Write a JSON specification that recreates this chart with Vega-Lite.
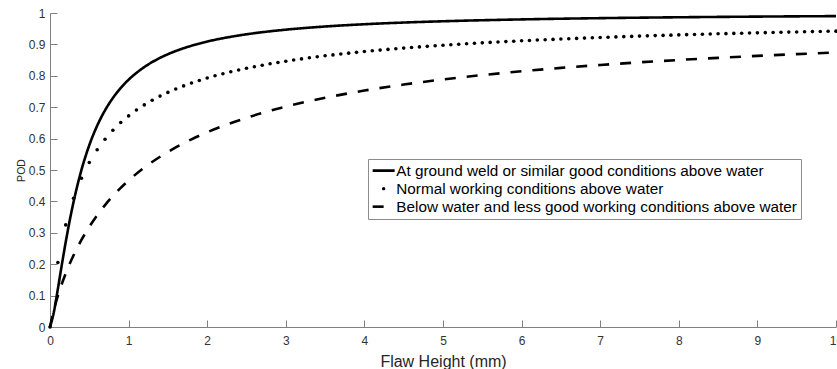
{
  "$schema": "https://vega.github.io/schema/vega-lite/v6.json",
  "width": 786,
  "height": 314,
  "autosize": {"type": "none"},
  "padding": {"left": 50, "top": 13, "right": 1, "bottom": 42},
  "background": "white",
  "config": {"view": {"stroke": null}, "font": "Liberation Sans"},
  "data": {"values": [
    {"s":"g","x":0,"p":0},{"s":"g","x":0.05,"p":0.0486},{"s":"g","x":0.1,"p":0.1211},{"s":"g","x":0.15,"p":0.1974},{"s":"g","x":0.2,"p":0.2707},{"s":"g","x":0.25,"p":0.338},{"s":"g","x":0.3,"p":0.3986},{"s":"g","x":0.4,"p":0.5},{"s":"g","x":0.5,"p":0.5791},{"s":"g","x":0.6,"p":0.641},{"s":"g","x":0.7,"p":0.69},{"s":"g","x":0.8,"p":0.7293},{"s":"g","x":0.9,"p":0.7613},{"s":"g","x":1,"p":0.7876},{"s":"g","x":1.2,"p":0.8279},{"s":"g","x":1.4,"p":0.8571},{"s":"g","x":1.6,"p":0.8789},{"s":"g","x":1.8,"p":0.8957},{"s":"g","x":2,"p":0.9091},{"s":"g","x":2.25,"p":0.922},{"s":"g","x":2.5,"p":0.9322},{"s":"g","x":2.75,"p":0.9403},{"s":"g","x":3,"p":0.9469},{"s":"g","x":3.5,"p":0.957},{"s":"g","x":4,"p":0.9642},{"s":"g","x":4.5,"p":0.9696},{"s":"g","x":5,"p":0.9737},{"s":"g","x":6,"p":0.9796},{"s":"g","x":7,"p":0.9836},{"s":"g","x":8,"p":0.9864},{"s":"g","x":9,"p":0.9885},{"s":"g","x":10,"p":0.9901},
    {"s":"b","x":0,"p":0},{"s":"b","x":0.05,"p":0.0557},{"s":"b","x":0.1,"p":0.0992},{"s":"b","x":0.2,"p":0.1705},{"s":"b","x":0.3,"p":0.2284},{"s":"b","x":0.4,"p":0.2772},{"s":"b","x":0.5,"p":0.3192},{"s":"b","x":0.6,"p":0.3559},{"s":"b","x":0.7,"p":0.3883},{"s":"b","x":0.8,"p":0.4172},{"s":"b","x":0.9,"p":0.4431},{"s":"b","x":1,"p":0.4667},{"s":"b","x":1.2,"p":0.5076},{"s":"b","x":1.4,"p":0.5422},{"s":"b","x":1.6,"p":0.5719},{"s":"b","x":1.8,"p":0.5976},{"s":"b","x":2,"p":0.6202},{"s":"b","x":2.5,"p":0.6662},{"s":"b","x":3,"p":0.7017},{"s":"b","x":3.5,"p":0.7299},{"s":"b","x":4,"p":0.7529},{"s":"b","x":4.5,"p":0.7721},{"s":"b","x":5,"p":0.7883},{"s":"b","x":5.5,"p":0.8023},{"s":"b","x":6,"p":0.8144},{"s":"b","x":6.5,"p":0.8251},{"s":"b","x":7,"p":0.8345},{"s":"b","x":7.5,"p":0.8429},{"s":"b","x":8,"p":0.8504},{"s":"b","x":8.5,"p":0.8572},{"s":"b","x":9,"p":0.8634},{"s":"b","x":9.5,"p":0.869},{"s":"b","x":10,"p":0.8742},
    {"s":"n","x":0,"p":0},{"s":"n","x":0.1,"p":0.2053},{"s":"n","x":0.2,"p":0.3252},{"s":"n","x":0.3,"p":0.4098},{"s":"n","x":0.4,"p":0.4735},{"s":"n","x":0.5,"p":0.5237},{"s":"n","x":0.6,"p":0.5644},{"s":"n","x":0.7,"p":0.5981},{"s":"n","x":0.8,"p":0.6266},{"s":"n","x":0.9,"p":0.6511},
    {"s":"n","x":1,"p":0.6723},{"s":"n","x":1.1,"p":0.6909},{"s":"n","x":1.2,"p":0.7074},{"s":"n","x":1.3,"p":0.7221},{"s":"n","x":1.4,"p":0.7353},{"s":"n","x":1.5,"p":0.7472},{"s":"n","x":1.6,"p":0.758},{"s":"n","x":1.7,"p":0.7679},{"s":"n","x":1.8,"p":0.7769},{"s":"n","x":1.9,"p":0.7852},
    {"s":"n","x":2,"p":0.7929},{"s":"n","x":2.1,"p":0.8},{"s":"n","x":2.2,"p":0.8066},{"s":"n","x":2.3,"p":0.8128},{"s":"n","x":2.4,"p":0.8186},{"s":"n","x":2.5,"p":0.8239},{"s":"n","x":2.6,"p":0.829},{"s":"n","x":2.7,"p":0.8337},{"s":"n","x":2.8,"p":0.8383},{"s":"n","x":2.9,"p":0.8425},
    {"s":"n","x":3,"p":0.8465},{"s":"n","x":3.1,"p":0.8503},{"s":"n","x":3.2,"p":0.8539},{"s":"n","x":3.3,"p":0.8573},{"s":"n","x":3.4,"p":0.8606},{"s":"n","x":3.5,"p":0.8637},{"s":"n","x":3.6,"p":0.8666},{"s":"n","x":3.7,"p":0.8695},{"s":"n","x":3.8,"p":0.8721},{"s":"n","x":3.9,"p":0.8747},
    {"s":"n","x":4,"p":0.8772},{"s":"n","x":4.1,"p":0.8796},{"s":"n","x":4.2,"p":0.8819},{"s":"n","x":4.3,"p":0.8841},{"s":"n","x":4.4,"p":0.8861},{"s":"n","x":4.5,"p":0.8882},{"s":"n","x":4.6,"p":0.8901},{"s":"n","x":4.7,"p":0.892},{"s":"n","x":4.8,"p":0.8938},{"s":"n","x":4.9,"p":0.8956},
    {"s":"n","x":5,"p":0.8973},{"s":"n","x":5.1,"p":0.8989},{"s":"n","x":5.2,"p":0.9005},{"s":"n","x":5.3,"p":0.902},{"s":"n","x":5.4,"p":0.9035},{"s":"n","x":5.5,"p":0.9049},{"s":"n","x":5.6,"p":0.9063},{"s":"n","x":5.7,"p":0.9076},{"s":"n","x":5.8,"p":0.9089},{"s":"n","x":5.9,"p":0.9102},
    {"s":"n","x":6,"p":0.9114},{"s":"n","x":6.1,"p":0.9126},{"s":"n","x":6.2,"p":0.9138},{"s":"n","x":6.3,"p":0.9149},{"s":"n","x":6.4,"p":0.916},{"s":"n","x":6.5,"p":0.9171},{"s":"n","x":6.6,"p":0.9181},{"s":"n","x":6.7,"p":0.9191},{"s":"n","x":6.8,"p":0.9201},{"s":"n","x":6.9,"p":0.9211},
    {"s":"n","x":7,"p":0.922},{"s":"n","x":7.1,"p":0.9229},{"s":"n","x":7.2,"p":0.9238},{"s":"n","x":7.3,"p":0.9247},{"s":"n","x":7.4,"p":0.9255},{"s":"n","x":7.5,"p":0.9264},{"s":"n","x":7.6,"p":0.9272},{"s":"n","x":7.7,"p":0.928},{"s":"n","x":7.8,"p":0.9287},{"s":"n","x":7.9,"p":0.9295},
    {"s":"n","x":8,"p":0.9302},{"s":"n","x":8.1,"p":0.931},{"s":"n","x":8.2,"p":0.9317},{"s":"n","x":8.3,"p":0.9324},{"s":"n","x":8.4,"p":0.933},{"s":"n","x":8.5,"p":0.9337},{"s":"n","x":8.6,"p":0.9343},{"s":"n","x":8.7,"p":0.935},{"s":"n","x":8.8,"p":0.9356},{"s":"n","x":8.9,"p":0.9362},
    {"s":"n","x":9,"p":0.9368},{"s":"n","x":9.1,"p":0.9374},{"s":"n","x":9.2,"p":0.938},{"s":"n","x":9.3,"p":0.9385},{"s":"n","x":9.4,"p":0.9391},{"s":"n","x":9.5,"p":0.9396},{"s":"n","x":9.6,"p":0.9402},{"s":"n","x":9.7,"p":0.9407},{"s":"n","x":9.8,"p":0.9412},{"s":"n","x":9.9,"p":0.9417},
    {"s":"n","x":10,"p":0.9422}
  ]},
  "encoding": {
    "x": {
      "field": "x", "type": "quantitative",
      "scale": {"domain": [0, 10], "nice": false, "zero": false},
      "axis": {
        "title": "Flaw Height (mm)",
        "values": [0,1,2,3,4,5,6,7,8,9,10],
        "grid": false, "labelFlush": false, "labelOverlap": false,
        "domainColor": "#808080", "tickColor": "#808080", "tickSize": -7,
        "labelPadding": 15, "labelFont": "Liberation Sans", "labelFontSize": 12, "labelColor": "#333333",
        "titleFont": "Liberation Sans", "titleFontSize": 16, "titleFontWeight": "normal", "titleColor": "#262626", "titlePadding": 7
      }
    },
    "y": {
      "field": "p", "type": "quantitative",
      "scale": {"domain": [0, 1], "nice": false},
      "axis": {
        "title": "POD",
        "values": [0,0.1,0.2,0.3,0.4,0.5,0.6,0.7,0.8,0.9,1],
        "format": "~g",
        "grid": false, "labelFlush": false, "labelOverlap": false,
        "domainColor": "#808080", "tickColor": "#808080", "tickSize": -7,
        "labelPadding": 12, "labelFont": "Liberation Sans", "labelFontSize": 12, "labelColor": "#333333",
        "titleFont": "Liberation Sans", "titleFontSize": 10.5, "titleFontWeight": "normal", "titleColor": "#262626", "titlePadding": 2
      }
    }
  },
  "layer": [
    {
      "transform": [{"filter": "datum.s !== 'n'"}],
      "mark": {"type": "line", "interpolate": "monotone", "strokeWidth": 2.6, "color": "black"},
      "encoding": {
        "strokeDash": {
          "field": "s", "type": "nominal",
          "scale": {"domain": ["g", "n", "b"], "range": [[1, 0], [1, 0], [11, 11]]},
          "legend": {
            "title": null,
            "orient": "none", "legendX": 318, "legendY": 146,
            "direction": "vertical",
            "strokeColor": "#8c8c8c", "fillColor": "white", "padding": 4,
            "labelFont": "Liberation Sans", "labelFontSize": 15.3, "labelColor": "black", "labelLimit": 0,
            "labelOffset": 5, "rowPadding": 2, "symbolOffset": 4,
            "symbolType": "stroke", "symbolSize": 484, "symbolStrokeWidth": 2.6, "symbolStrokeColor": "black",
            "labelExpr": "datum.value === 'g' ? 'At ground weld or similar good conditions above water' : datum.value === 'n' ? 'Normal working conditions above water' : 'Below water and less good working conditions above water'",
            "encode": {
              "symbols": {
                "update": {
                  "shape": {"signal": "datum.value === 'n' ? 'M -0.15,0 A 0.15,0.15 0 1,1 0.15,0 A 0.15,0.15 0 1,1 -0.15,0 Z' : 'stroke'"},
                  "fill": {"value": "black"},
                  "fillOpacity": {"value": 1},
                  "stroke": {"value": "black"},
                  "strokeOpacity": {"value": 1},
                  "opacity": {"value": 1},
                  "strokeWidth": {"signal": "datum.value === 'n' ? 0 : 2.6"}
                }
              }
            }
          }
        }
      }
    },
    {
      "transform": [{"filter": "datum.s === 'n'"}],
      "mark": {"type": "circle", "size": 13, "color": "black", "opacity": 1}
    }
  ]
}
